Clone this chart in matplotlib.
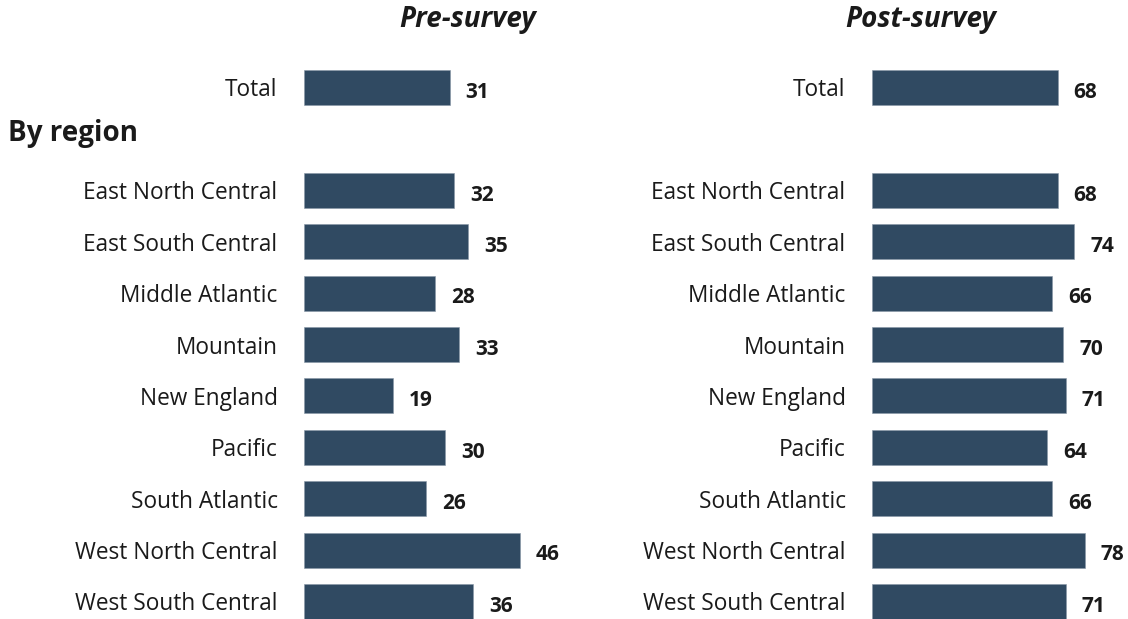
import matplotlib.pyplot as plt

plt.rcParams['font.family'] = ['Open Sans', 'DejaVu Sans']

# datos
categorias = ['Total', '', 'East North Central', 'East South Central', 'Middle Atlantic',
              'Mountain', 'New England', 'Pacific', 'South Atlantic',
              'West North Central', 'West South Central']
pre = [31, None, 32, 35, 28, 33, 19, 30, 26, 46, 36]
post = [68, None, 68, 74, 66, 70, 71, 64, 66, 78, 71]

color_barra = '#304A62'
color_texto = '#1A1A1A'

W, H = 1128, 619
fig = plt.figure(figsize=(W / 100, H / 100), dpi=100)

paso = 51.4
y0 = 87.5


def panel(x_izq, ancho, escala, valores):
    ax = fig.add_axes([x_izq / W, 0, ancho / W, 1])
    pos = [i for i, v in enumerate(valores) if v is not None]
    vals = [valores[i] for i in pos]
    ax.barh(pos, vals, height=0.68, color=color_barra, edgecolor='#8796A6', linewidth=0.4)
    for p, v in zip(pos, vals):
        ax.annotate(str(v), (v, p), xytext=(11.5, -3.5), textcoords='offset points',
                    ha='left', va='center', fontsize=15, fontweight='bold', color=color_texto)
    ax.set_xlim(0, ancho / escala)
    ax.set_ylim(10 + (H - (y0 + 10 * paso)) / paso, -y0 / paso)
    ax.set_yticks(range(len(categorias)))
    ax.set_yticklabels(categorias, fontsize=16.3, color=color_texto)
    ax.tick_params(axis='y', length=0, pad=19)
    ax.set_xticks([])
    for s in ax.spines.values():
        s.set_visible(False)
    ax.patch.set_alpha(0)
    return ax


panel(304, 270, 4.696, pre)
panel(872, 256, 2.731, post)

fig.text(468 / W, 1 - 20 / H, 'Pre-survey', ha='center', va='center', fontsize=20,
         fontweight='bold', fontstyle='italic', color=color_texto)
fig.text(921 / W, 1 - 20 / H, 'Post-survey', ha='center', va='center', fontsize=20,
         fontweight='bold', fontstyle='italic', color=color_texto)
fig.text(8 / W, 1 - 133 / H, 'By region', ha='left', va='center', fontsize=20,
         fontweight='bold', color=color_texto)

plt.savefig('out.png', dpi=100)
